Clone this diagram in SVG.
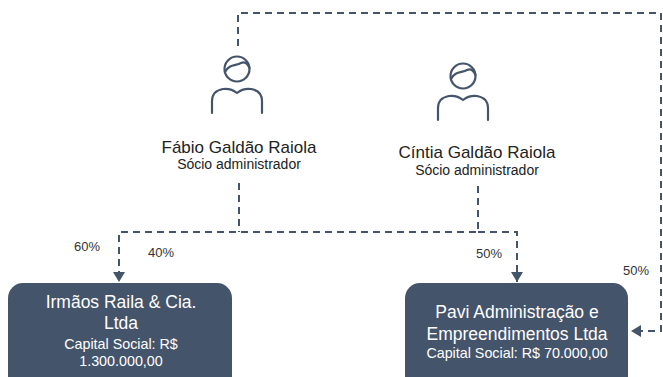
<svg xmlns="http://www.w3.org/2000/svg" width="663" height="377" viewBox="0 0 663 377">
<style>
.conn{fill:none;stroke:#44546A;stroke-width:2;stroke-dasharray:7 5}
.icon{fill:none;stroke:#44546A;stroke-width:2.2;stroke-linecap:round;stroke-linejoin:round}
.name{font-family:"Liberation Sans",Arial,sans-serif;font-size:17px;fill:#222;text-anchor:middle}
.role{font-family:"Liberation Sans",Arial,sans-serif;font-size:14px;fill:#222;text-anchor:middle}
.box{fill:#44546A}
.bt{font-family:"Liberation Sans",Arial,sans-serif;font-size:17.5px;fill:#fff;text-anchor:middle}
.bs{font-family:"Liberation Sans",Arial,sans-serif;font-size:14.3px;fill:#fff;text-anchor:middle}
.pct{font-family:"Liberation Sans",Arial,sans-serif;font-size:13px;fill:#333}
</style>
<defs>
<marker id="arr" markerUnits="userSpaceOnUse" markerWidth="12" markerHeight="12" viewBox="0 0 10 12" refX="10" refY="6" orient="auto">
<path d="M0,0 L10,6 L0,12 Z" fill="#44546A"/>
</marker>
<g id="person">
<circle cx="0" cy="0" r="12.5"/>
<path d="M-12,3 C-8,-5 -1,-3 4,-6 C8,-8 11,-5 12.5,-1"/>
<path d="M-25,44 V32 Q-25,22 -14,20 Q-6,19 0,24 Q6,19 14,20 Q25,22 25,32 V44"/>
</g>
</defs>

<g id="connectors">
<path class="conn" d="M238,46 V13 H661 V331 H631" marker-end="url(#arr)"/>
<path class="conn" d="M239,183 V232"/>
<path class="conn" d="M478,186 V232 H119 V282" marker-end="url(#arr)"/>
<path class="conn" d="M478,232 H517 V282" marker-end="url(#arr)"/>
<text class="pct" x="74" y="251">60%</text>
<text class="pct" x="148" y="257">40%</text>
<text class="pct" x="476" y="258">50%</text>
<text class="pct" x="623" y="275">50%</text>
</g>

<g id="fabio">
<use href="#person" class="icon" transform="translate(237,69)"/>
<text class="name" x="239" y="153">Fábio Galdão Raiola</text>
<text class="role" x="239" y="169">Sócio administrador</text>
</g>

<g id="cintia">
<use href="#person" class="icon" transform="translate(463,76)"/>
<text class="name" x="477" y="158">Cíntia Galdão Raiola</text>
<text class="role" x="477" y="175">Sócio administrador</text>
</g>

<g id="irmaos">
<rect class="box" x="8" y="283" width="224" height="110" rx="15"/>
<text class="bt" x="121" y="308">Irmãos Raila &amp; Cia.</text>
<text class="bt" x="121" y="329">Ltda</text>
<text class="bs" x="121" y="349">Capital Social: R$</text>
<text class="bs" x="121" y="366">1.300.000,00</text>
</g>

<g id="pavi">
<rect class="box" x="405" y="283" width="223" height="110" rx="15"/>
<text class="bt" x="517" y="318">Pavi Administração e</text>
<text class="bt" x="517" y="340">Empreendimentos Ltda</text>
<text class="bs" x="517" y="358">Capital Social: R$ 70.000,00</text>
</g>
</svg>
